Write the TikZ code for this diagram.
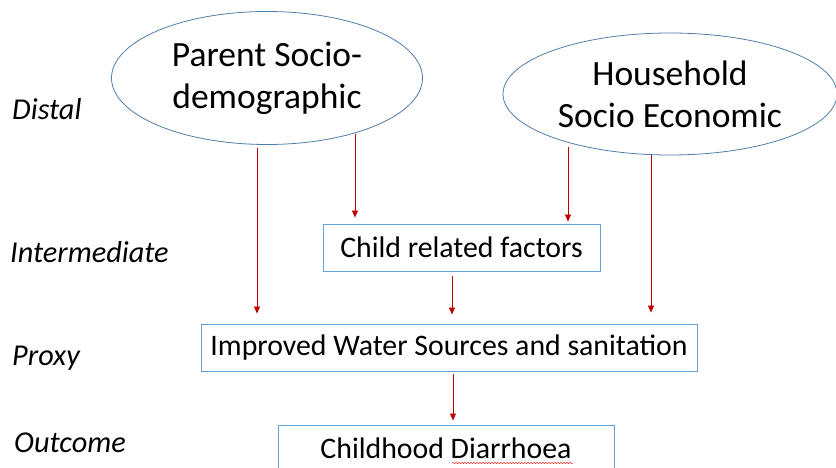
\documentclass[tikz,border=0pt]{standalone}
\usepackage{fontspec}
\setmainfont{Carlito}
\usetikzlibrary{shapes.geometric,arrows.meta,decorations.pathmorphing}
\definecolor{arrred}{RGB}{192,0,0}
\definecolor{ellblue}{RGB}{80,126,170}
\definecolor{boxblue}{RGB}{100,160,220}
\begin{document}
\begin{tikzpicture}[x=1pt,y=-1pt,
  oval/.style={draw=ellblue,line width=0.8pt,ellipse,inner sep=0pt,align=center,font=\fontsize{35.5}{42}\selectfont},
  fbox/.style={draw=boxblue,line width=0.9pt,rectangle,inner sep=0pt,minimum height=47pt,font=\fontsize{29.8}{34}\selectfont},
  lvl/.style={anchor=base west,inner sep=0pt,font=\fontsize{30.3}{34}\selectfont\itshape},
  arr/.style={draw=arrred,line width=0.8pt,-{Triangle[length=7pt,width=6pt]}}]
\useasboundingbox (0,0) rectangle (836,468);
% ellipses
\node[oval,minimum width=311pt,minimum height=133pt] (e1) at (267,78) {Parent Socio-\\demographic};
\node[oval,minimum width=334pt,minimum height=122pt] (e2) at (670,94) {Household\\Socio Economic};
% boxes
\node[fbox,minimum width=277pt] (child) at (461.5,247.5) {\raisebox{-1.5pt}{Child related factors}};
\node[fbox,minimum width=496pt] (imp) at (449,347.5) {\raisebox{-2pt}{Improved Water Sources and sanitation}};
\node[fbox,minimum width=336pt] (out) at (446,448.5) {\raisebox{-1.5pt}{Childhood Diarrhoea}};
% level labels
\node[lvl] (l1) at (12,120) {Distal};
\node[lvl] (l2) at (10,262) {Intermediate};
\node[lvl] (l3) at (12,365) {Proxy};
\node[lvl] (l4) at (14,452) {Outcome};
% arrow start points on the ellipses
\coordinate (s1) at (257,148);
\coordinate (s2) at (355,134);
\coordinate (s3) at (568,147);
\coordinate (s4) at (651,155);
% arrows
\draw[arr,shorten >=10pt] (s1) -- (s1 |- imp.north);
\draw[arr,shorten >=6pt] (s2) -- (s2 |- child.north);
\draw[arr,shorten >=2pt] (s3) -- (s3 |- child.north);
\draw[arr,shorten >=11pt] (s4) -- (s4 |- imp.north);
\draw[arr,shorten <=5pt,shorten >=9pt] (child.south -| 452,0) -- (imp.north -| 452,0);
\draw[arr,shorten <=3pt,shorten >=4pt] (imp.south -| 453,0) -- (out.north -| 453,0);
% spell-check underline
\coordinate (w1) at (452,463);
\coordinate (w2) at (573,463);
\draw[red!80,line width=0.5pt,decorate,decoration={snake,amplitude=0.8pt,segment length=3pt}] (w1) -- (w2);
\end{tikzpicture}
\end{document}
